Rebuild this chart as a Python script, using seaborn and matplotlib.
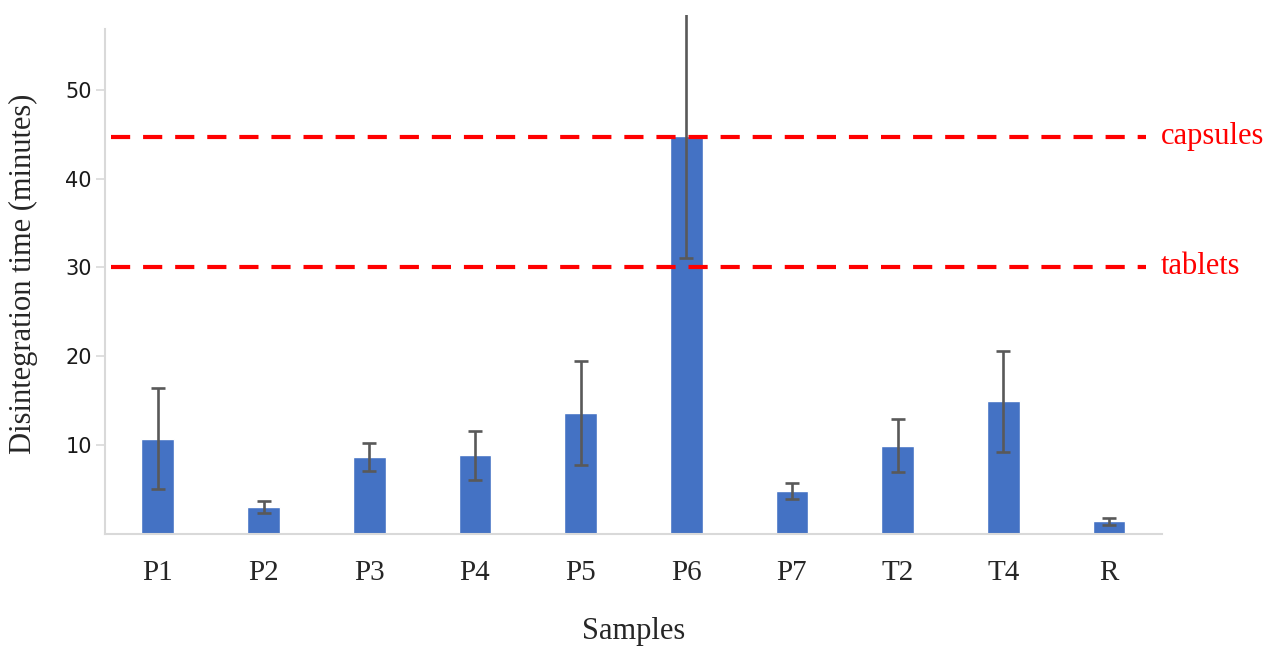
import pandas as pd
import matplotlib
matplotlib.use('Agg')
import matplotlib.pyplot as plt
import seaborn as sns

# Values
samples = ['P1', 'P2', 'P3', 'P4', 'P5', 'P6', 'P7', 'T2', 'T4', 'R']
mean_time = [10.7, 3.0, 8.6, 8.8, 13.6, 44.85, 4.8, 9.9, 14.9, 1.4]
sd_time = [5.7, 0.7, 1.6, 2.8, 5.9, 13.8, 0.9, 3.0, 5.7, 0.4]
limit_names = ['capsules', 'tablets']
limit_values = [44.7, 30.1]

df = pd.DataFrame({'Sample': samples, 'Time': mean_time, 'SD': sd_time})

sns.set_style('white')
plt.rcParams['font.family'] = ['DejaVu Sans']

fig = plt.figure(figsize=(12.74, 6.47), dpi=100)
ax = fig.add_axes([0.0824, 0.1754, 0.8296, 0.8014])

sns.barplot(x='Sample', y='Time', data=df, color='#4472C4', saturation=1,
            width=0.31, errorbar=None, ax=ax, zorder=2)
ax.errorbar(range(len(samples)), df['Time'], yerr=df['SD'], fmt='none',
            ecolor='#595959', elinewidth=1.9, capsize=5, capthick=1.9, zorder=4)

# reference limits
for name, val in zip(limit_names, limit_values):
    ax.hlines(val, -0.44, 9.35, colors='#ff0000', linewidth=3,
              linestyles=(0, (4.6, 3.1)), zorder=3)
    ax.text(9.49, val, name, color='#ff0000', fontsize=22,
            family='Liberation Serif', va='center', ha='left', clip_on=False)

ax.set_xlim(-0.5, 9.5)
ax.set_ylim(0, 58.45)
ax.set_yticks([10, 20, 30, 40, 50])
ax.spines['left'].set_bounds(0, 56.9)
for s in ['top', 'right']:
    ax.spines[s].set_visible(False)
for s in ['left', 'bottom']:
    ax.spines[s].set_color('#d9d9d9')
    ax.spines[s].set_linewidth(1.5)

ax.tick_params(axis='y', left=True, length=6.5, width=1.2, color='#d9d9d9',
               labelsize=15, labelcolor='#1a1a1a', pad=3)
ax.tick_params(axis='x', bottom=False, length=0, pad=19)
for lbl in ax.get_xticklabels():
    lbl.set_family('Liberation Serif')
    lbl.set_fontsize(21)

ax.set_xlabel('Samples', family='Liberation Serif', fontsize=22, labelpad=22.5)
ax.set_ylabel('Disintegration time (minutes)', family='Liberation Serif',
              fontsize=22, labelpad=20)

fig.savefig('out.png', dpi=100)
